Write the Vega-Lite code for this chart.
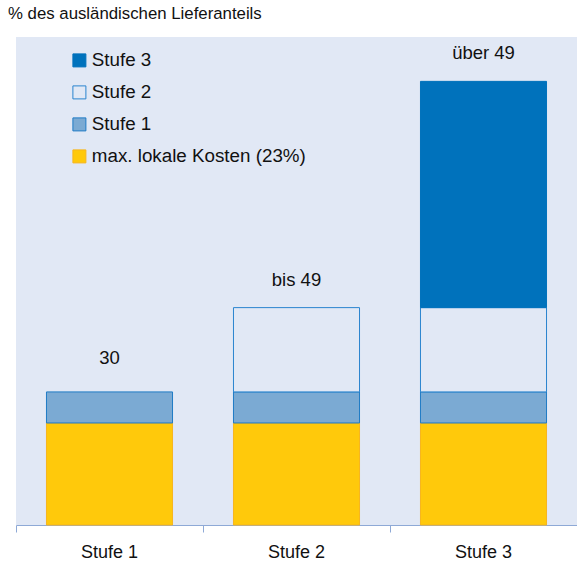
{
  "$schema": "https://vega.github.io/schema/vega-lite/v6.json",
  "width": 561,
  "height": 488,
  "autosize": {"type": "none"},
  "padding": {"left": 16, "top": 37, "right": 0, "bottom": 37},
  "background": "white",
  "title": {
    "text": "% des ausländischen Lieferanteils",
    "anchor": "start",
    "frame": "group",
    "dx": -8,
    "offset": 14,
    "font": "Liberation Sans",
    "fontSize": 16.8,
    "fontWeight": "normal",
    "color": "#111111"
  },
  "config": {
    "view": {"fill": "#E1E8F5", "stroke": null},
    "font": "Liberation Sans"
  },
  "datasets": {
    "bars": [
      {"stufe": "Stufe 1", "seg": "max. lokale Kosten (23%)", "v": 23, "o": 1},
      {"stufe": "Stufe 1", "seg": "Stufe 1", "v": 7, "o": 2},
      {"stufe": "Stufe 2", "seg": "max. lokale Kosten (23%)", "v": 23, "o": 1},
      {"stufe": "Stufe 2", "seg": "Stufe 1", "v": 7, "o": 2},
      {"stufe": "Stufe 2", "seg": "Stufe 2", "v": 19, "o": 3},
      {"stufe": "Stufe 3", "seg": "max. lokale Kosten (23%)", "v": 23, "o": 1},
      {"stufe": "Stufe 3", "seg": "Stufe 1", "v": 7, "o": 2},
      {"stufe": "Stufe 3", "seg": "Stufe 2", "v": 19, "o": 3},
      {"stufe": "Stufe 3", "seg": "Stufe 3", "v": 51, "o": 4}
    ],
    "labels": [
      {"stufe": "Stufe 1", "total": 30, "label": "30"},
      {"stufe": "Stufe 2", "total": 49, "label": "bis 49"},
      {"stufe": "Stufe 3", "total": 100, "label": "über 49"}
    ]
  },
  "encoding": {
    "x": {
      "field": "stufe",
      "type": "nominal",
      "scale": {"paddingInner": 0, "paddingOuter": 0},
      "axis": {
        "title": null,
        "bandPosition": 0,
        "labelAngle": 0,
        "labelFontSize": 18,
        "labelColor": "#111111",
        "labelPadding": 11,
        "labelBaseline": "top",
        "tickSize": 7,
        "domainColor": "#8EA9D6",
        "tickColor": "#8EA9D6",
        "labelFont": "Liberation Sans"
      }
    }
  },
  "layer": [
    {
      "data": {"name": "bars"},
      "mark": {"type": "bar", "width": {"band": 0.674}, "strokeWidth": 1},
      "encoding": {
        "y": {
          "field": "v",
          "type": "quantitative",
          "stack": "zero",
          "scale": {"domain": [0, 110], "nice": false},
          "axis": null
        },
        "order": {"field": "o", "type": "quantitative"},
        "fill": {
          "field": "seg",
          "type": "nominal",
          "scale": {
            "domain": ["Stufe 3", "Stufe 2", "Stufe 1", "max. lokale Kosten (23%)"],
            "range": ["#0072BC", "#E1E8F5", "#7BAAD3", "#FFC90B"]
          },
          "legend": {
            "title": null,
            "orient": "none",
            "legendX": 54,
            "legendY": 14,
            "symbolType": "square",
            "symbolSize": 169,
            "symbolStrokeWidth": 1,
            "labelFontSize": 18.8,
            "labelColor": "#111111",
            "labelFont": "Liberation Sans",
            "labelOffset": 3,
            "labelLimit": 0,
            "rowPadding": 12,
            "encode": {
              "symbols": {
                "update": {
                  "fill": [
                    {"test": "datum.value === 'Stufe 2'", "value": "#FFFFFF"},
                    {"scale": "fill", "field": "value"}
                  ]
                }
              }
            }
          }
        },
        "stroke": {
          "field": "seg",
          "type": "nominal",
          "scale": {
            "domain": ["Stufe 3", "Stufe 2", "Stufe 1", "max. lokale Kosten (23%)"],
            "range": ["#0072BC", "#2A84CF", "#1F7BC5", "#F7B51E"]
          },
          "legend": {
            "title": null,
            "orient": "none",
            "legendX": 54,
            "legendY": 14,
            "symbolType": "square",
            "symbolSize": 169,
            "symbolStrokeWidth": 1,
            "labelFontSize": 18.8,
            "labelColor": "#111111",
            "labelFont": "Liberation Sans",
            "labelOffset": 3,
            "labelLimit": 0,
            "rowPadding": 12
          }
        }
      }
    },
    {
      "data": {"name": "labels"},
      "transform": [{"filter": "datum.stufe === 'Stufe 1'"}],
      "mark": {"type": "text", "dy": -34, "fontSize": 18.5, "color": "#111111", "baseline": "middle", "font": "Liberation Sans"},
      "encoding": {
        "y": {"field": "total", "type": "quantitative"},
        "text": {"field": "label"}
      }
    },
    {
      "data": {"name": "labels"},
      "transform": [{"filter": "datum.stufe !== 'Stufe 1'"}],
      "mark": {"type": "text", "dy": -28, "fontSize": 18.5, "color": "#111111", "baseline": "middle", "font": "Liberation Sans"},
      "encoding": {
        "y": {"field": "total", "type": "quantitative"},
        "text": {"field": "label"}
      }
    }
  ]
}
